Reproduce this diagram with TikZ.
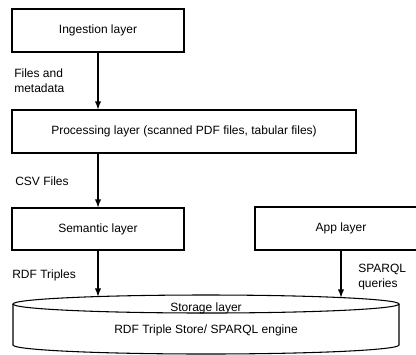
\documentclass[tikz,border=0pt]{standalone}
\usepackage{fontspec}
\setmainfont{Liberation Sans}

\tikzset{
  layer/.style={draw, line width=0.8pt, inner sep=0pt},
  flow/.style={-latex, line width=1.1pt},
  note/.style={anchor=west, align=left, inner sep=0pt}
}

\begin{document}
\begin{tikzpicture}[x=0.75pt, y=-0.75pt, font=\fontsize{9}{11.25}\selectfont]

\useasboundingbox (0,0) rectangle (416,354);
\clip (0,0) rectangle (416,354);

% the four boxes
\node [layer, minimum width=129pt, minimum height=32.25pt] (ingest) at (98,30.5) {Ingestion layer};
\node [layer, minimum width=258pt, minimum height=32.25pt] (proc) at (184,131.5) {Processing layer (scanned PDF files, tabular files)};
\node [layer, minimum width=129pt, minimum height=31.5pt] (sem) at (98,229) {Semantic layer};
\node [layer, minimum width=129pt, minimum height=32.25pt] (app) at (341,228.5) {App layer};

% storage cylinder
\draw [line width=0.8pt] (13,304) -- (13,345) arc [start angle=180, end angle=0, x radius=193, y radius=9] -- (399,304);
\draw [line width=0.8pt] (206,304) ellipse [x radius=193, y radius=9];
\node (storage) at (206,308) {Storage layer};
\node (engine) at (206,330) {RDF Triple Store/ SPARQL engine};
\coordinate (semin) at (98,296.5);
\coordinate (appin) at (341,297.5);

% arrows
\draw [flow] (ingest.south) -- (ingest.south |- proc.north);
\draw [flow] (proc.south -| sem.north) -- (sem.north);
\draw [flow] (sem.south) -- (semin);
\draw [flow] (app.south) -- (appin);

% labels on the arrows
\node [note] (files) at (14,80.5) {Files and\\metadata};
\node [note] (csv) at (15,181) {CSV Files};
\node [note] (rdf) at (12,275) {RDF Triples};
\node [note] (sparql) at (358,277) {SPARQL\\queries};

\end{tikzpicture}
\end{document}
